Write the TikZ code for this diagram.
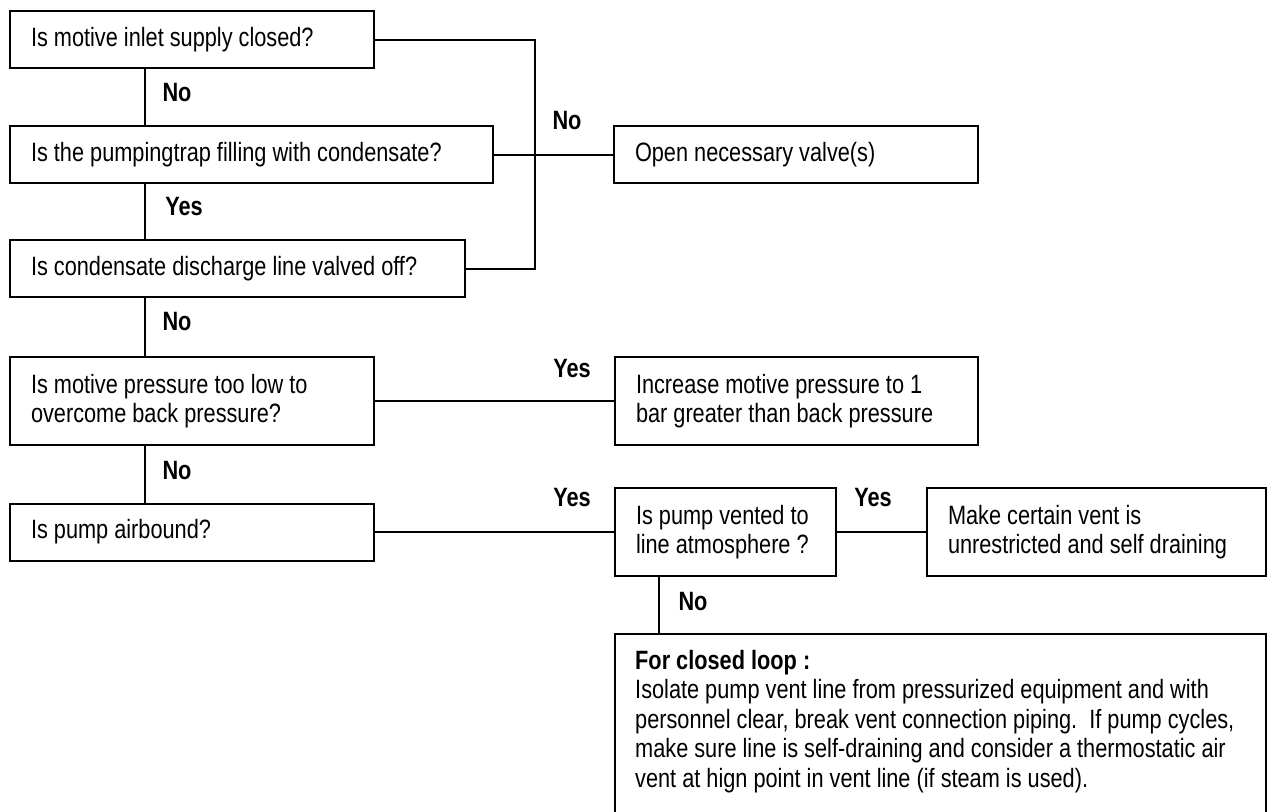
\documentclass[tikz,border=0pt]{standalone}
\usepackage{fontspec}
\setmainfont{Liberation Sans}[FakeStretch=0.82]
\begin{document}
\begin{tikzpicture}[x=1pt,y=-1pt,
  every node/.style={font=\fontsize{26.5}{29.5}\selectfont, execute at begin node={\spaceskip=0pt\xspaceskip=0pt}},
  qbox/.style={draw, line width=2pt, rectangle, anchor=north west, inner xsep=21pt, inner ysep=0pt, align=left},
  lbl/.style={font=\fontsize{26.5}{29.5}\selectfont\bfseries, inner sep=0pt},
  conn/.style={line width=2pt}
]
\useasboundingbox (0,0) rectangle (1268,811);
\clip (0,0) rectangle (1268,811);
% left column
\node[qbox, text width=322pt, minimum height=57pt] (b1) at (9,10) {Is motive inlet supply closed?};
\node[qbox, text width=441pt, minimum height=57pt] (b2) at (9,125) {Is the pumpingtrap filling with condensate?};
\node[qbox, text width=413pt, minimum height=57pt] (b3) at (9,239) {Is condensate discharge line valved off?};
\node[qbox, text width=322pt, minimum height=88pt] (b4) at (9,356) {Is motive pressure too low to\\overcome back pressure?};
\node[qbox, text width=322pt, minimum height=57pt] (b5) at (9,502.5) {Is pump airbound?};
% right column
\node[qbox, text width=322pt, minimum height=57pt] (open) at (613,125) {Open necessary valve(s)};
\node[qbox, text width=321pt, minimum height=88pt] (inc) at (614,356) {Increase motive pressure to 1\\bar greater than back pressure};
\node[qbox, text width=179pt, minimum height=88pt] (vent) at (614,487) {Is pump vented to\\line atmosphere ?};
\node[qbox, text width=297pt, minimum height=88pt] (make) at (926,487) {Make certain vent is\\unrestricted and self draining};
\node[draw, line width=2pt, rectangle, anchor=north west, inner sep=0pt, minimum width=651pt, minimum height=220pt] (closed) at (614,633) {};
\node[anchor=north west, inner sep=0pt, align=left, text width=630pt] (closedtxt) at (635,650) {\textbf{For closed loop :}\\
Isolate pump vent line from pressurized equipment and with\\
personnel clear, break vent connection piping.\ \ If pump cycles,\\
make sure line is self-draining and consider a thermostatic air\\
vent at hign point in vent line (if steam is used).};
% helper coordinates
\coordinate (spine) at (145,0);
\coordinate (bx) at (535,150);
\coordinate (vx) at (659,0);
% connectors
\draw[conn] (b1.south -| spine) -- (b2.north -| spine);
\draw[conn] (b2.south -| spine) -- (b3.north -| spine);
\draw[conn] (b3.south -| spine) -- (b4.north -| spine);
\draw[conn] (b4.south -| spine) -- (b5.north -| spine);
\draw[conn] (b1.east) -| (bx) |- (b3.east);
\draw[conn] (b2.east) -- (open.west);
\draw[conn] (b4.east) -- (inc.west);
\draw[conn] (b5.east) -- (vent.west);
\draw[conn] (vent.east) -- (make.west);
\draw[conn] (vent.south -| vx) -- (closed.north -| vx);
% labels
\node[lbl] (l1) at (177,93) {No};
\node[lbl] (l2) at (184,207) {Yes};
\node[lbl] (l3) at (567,121) {No};
\node[lbl] (l4) at (177,322) {No};
\node[lbl] (l5) at (572,369) {Yes};
\node[lbl] (l6) at (177,471) {No};
\node[lbl] (l7) at (572,498) {Yes};
\node[lbl] (l8) at (873,498) {Yes};
\node[lbl] (l9) at (693,602) {No};
\end{tikzpicture}
\end{document}
